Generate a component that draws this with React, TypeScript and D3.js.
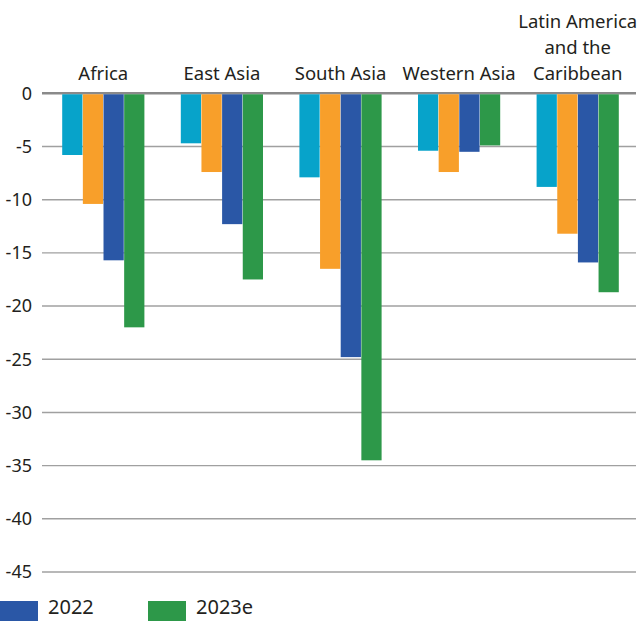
import React from "react";
import * as d3 from "d3";

const categories = ["Africa", "East Asia", "South Asia", "Western Asia", "Latin America|and the|Caribbean"];
const seriesNames = ["s1", "s2", "2022", "2023e"];
const seriesColors = ["#07A3CA", "#F89F2A", "#2A57A6", "#2D9849"];
const s1 = [-5.8, -4.7, -7.9, -5.4, -8.8];
const s2 = [-10.4, -7.4, -16.5, -7.4, -13.2];
const s2022 = [-15.7, -12.3, -24.8, -5.5, -15.9];
const s2023e = [-22.0, -17.5, -34.5, -4.9, -18.7];
const yTicks = [0, -5, -10, -15, -20, -25, -30, -35, -40, -45];
const legendItems = [
  { name: "2022", color: "#2A57A6" },
  { name: "2023e", color: "#2D9849" },
];

const W = 639;
const H = 621;
const FONT = "'Noto Sans', 'Open Sans', sans-serif";

export default function App() {
  const series = [s1, s2, s2022, s2023e];
  const y = d3.scaleLinear().domain([0, -45]).range([93.3, 572]);
  const x0 = d3
    .scaleBand<string>()
    .domain(categories)
    .range([44, 637])
    .paddingInner(0.3)
    .paddingOuter(0.15);
  const x1 = d3
    .scaleBand<string>()
    .domain(seriesNames)
    .range([0, x0.bandwidth()])
    .padding(0.02);

  return (
    <svg
      width={W}
      height={H}
      style={{ position: "absolute", left: 0, top: 0, fontFamily: FONT }}
    >
      <rect width={W} height={H} fill="#fff" />
      {yTicks.map((t) => (
        <g key={t}>
          <line
            x1={42}
            x2={636}
            y1={y(t)}
            y2={y(t)}
            stroke={t === 0 ? "#8a8a8a" : "#a0a0a0"}
            strokeWidth={t === 0 ? 2.5 : 1.4}
          />
          <text
            x={32}
            y={y(t)}
            dy="0.35em"
            textAnchor="end"
            fontSize={18}
            fill="#231f20"
          >
            {t}
          </text>
        </g>
      ))}
      {categories.map((c, ci) => (
        <g key={c} transform={`translate(${x0(c)},0)`}>
          {series.map((vals, si) => (
            <rect
              key={si}
              x={x1(seriesNames[si])}
              y={y(0) + 1}
              width={x1.bandwidth()}
              height={y(vals[ci]) - y(0) - 1}
              fill={seriesColors[si]}
            />
          ))}
          {c.split("|").map((line, li, arr) => (
            <text
              key={li}
              x={x0.bandwidth() / 2}
              y={80 - (arr.length - 1 - li) * 26}
              textAnchor="middle"
              fontSize={18.5}
              fill="#231f20"
            >
              {line}
            </text>
          ))}
        </g>
      ))}
      {legendItems.map((l, i) => (
        <g key={l.name} transform={`translate(${i * 148},0)`}>
          <rect x={0} y={601} width={38} height={20} fill={l.color} />
          <text x={48} y={614} fontSize={20} fill="#231f20">
            {l.name}
          </text>
        </g>
      ))}
    </svg>
  );
}
